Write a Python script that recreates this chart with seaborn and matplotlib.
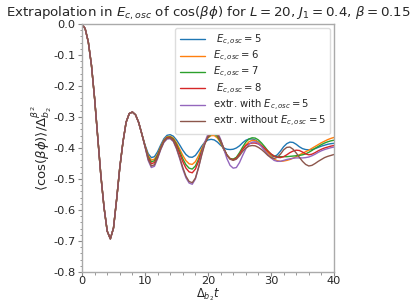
import numpy as np
import pandas as pd
import matplotlib
matplotlib.use("Agg")
import matplotlib.pyplot as plt
from matplotlib.ticker import AutoMinorLocator, MultipleLocator
import seaborn as sns

# ---- data ----
t_vals = [i * 0.5 for i in range(81)]  # 0 .. 40 step 0.5

common_start = [0.000, -0.015, -0.058, -0.133, -0.240, -0.366, -0.490, -0.592,
                -0.668, -0.693, -0.658, -0.565, -0.463, -0.381, -0.317, -0.289,
                -0.284, -0.293, -0.318, -0.355]  # t = 0 .. 9.5

e5_tail = [-0.390, -0.418, -0.431, -0.428, -0.412, -0.390, -0.370, -0.359, -0.357, -0.362,
           -0.374, -0.390, -0.407, -0.421, -0.429, -0.430, -0.424, -0.410, -0.394, -0.381,
           -0.374, -0.372, -0.374, -0.381, -0.391, -0.400, -0.404, -0.405, -0.404, -0.400,
           -0.393, -0.383, -0.375, -0.371, -0.371, -0.374, -0.381, -0.392, -0.404, -0.416,
           -0.425, -0.428, -0.422, -0.410, -0.396, -0.386, -0.381, -0.382, -0.388, -0.396,
           -0.402, -0.405, -0.406, -0.405, -0.402, -0.398, -0.394, -0.391, -0.388, -0.386,
           -0.385]
e6_tail = [-0.392, -0.424, -0.439, -0.436, -0.420, -0.396, -0.375, -0.364, -0.362, -0.368,
           -0.383, -0.403, -0.424, -0.441, -0.451, -0.453, -0.444, -0.425, -0.402, -0.381,
           -0.367, -0.360, -0.360, -0.368, -0.384, -0.405, -0.423, -0.434, -0.437, -0.432,
           -0.420, -0.404, -0.390, -0.380, -0.375, -0.376, -0.382, -0.392, -0.403, -0.415,
           -0.427, -0.436, -0.441, -0.443, -0.442, -0.440, -0.437, -0.433, -0.428, -0.422,
           -0.417, -0.412, -0.407, -0.401, -0.395, -0.389, -0.383, -0.378, -0.373, -0.369,
           -0.366]
e7_tail = [-0.393, -0.428, -0.445, -0.441, -0.423, -0.398, -0.377, -0.366, -0.364, -0.371,
           -0.388, -0.411, -0.435, -0.454, -0.465, -0.468, -0.458, -0.436, -0.409, -0.384,
           -0.366, -0.356, -0.355, -0.363, -0.381, -0.404, -0.423, -0.434, -0.436, -0.430,
           -0.415, -0.397, -0.381, -0.371, -0.367, -0.368, -0.374, -0.384, -0.396, -0.409,
           -0.420, -0.426, -0.428, -0.428, -0.428, -0.428, -0.427, -0.426, -0.425, -0.424,
           -0.422, -0.419, -0.414, -0.408, -0.401, -0.395, -0.389, -0.384, -0.380, -0.377,
           -0.375]
e8_tail = [-0.394, -0.432, -0.451, -0.447, -0.427, -0.400, -0.378, -0.367, -0.366, -0.374,
           -0.393, -0.418, -0.444, -0.465, -0.477, -0.480, -0.468, -0.443, -0.413, -0.385,
           -0.364, -0.352, -0.350, -0.358, -0.377, -0.402, -0.423, -0.435, -0.438, -0.433,
           -0.420, -0.404, -0.392, -0.386, -0.384, -0.384, -0.387, -0.393, -0.401, -0.410,
           -0.419, -0.426, -0.430, -0.431, -0.428, -0.422, -0.415, -0.410, -0.407, -0.408,
           -0.413, -0.419, -0.422, -0.420, -0.415, -0.409, -0.404, -0.400, -0.397, -0.394,
           -0.392]
extr_with_tail = [-0.396, -0.440, -0.463, -0.459, -0.434, -0.405, -0.382, -0.371, -0.370, -0.379,
                  -0.403, -0.434, -0.468, -0.496, -0.513, -0.517, -0.500, -0.463, -0.420, -0.381,
                  -0.355, -0.341, -0.338, -0.348, -0.372, -0.403, -0.434, -0.456, -0.465, -0.463,
                  -0.447, -0.424, -0.403, -0.388, -0.381, -0.380, -0.386, -0.396, -0.409, -0.421,
                  -0.432, -0.440, -0.443, -0.443, -0.440, -0.437, -0.435, -0.433, -0.432, -0.432,
                  -0.432, -0.431, -0.429, -0.425, -0.420, -0.414, -0.409, -0.405, -0.402, -0.399,
                  -0.397]
extr_without_tail = [-0.395, -0.436, -0.458, -0.454, -0.431, -0.403, -0.380, -0.369, -0.368, -0.377,
                     -0.400, -0.430, -0.463, -0.491, -0.508, -0.512, -0.497, -0.463, -0.423, -0.387,
                     -0.362, -0.348, -0.346, -0.355, -0.375, -0.400, -0.422, -0.436, -0.440, -0.436,
                     -0.425, -0.411, -0.400, -0.394, -0.392, -0.393, -0.398, -0.405, -0.414, -0.424,
                     -0.431, -0.434, -0.430, -0.420, -0.406, -0.398, -0.397, -0.404, -0.416, -0.430,
                     -0.443, -0.453, -0.458, -0.456, -0.450, -0.443, -0.437, -0.431, -0.427, -0.424,
                     -0.421]

labels = [r" $E_{c,osc}=5$", r"$E_{c,osc}=6$", r"$E_{c,osc}=7$", r" $E_{c,osc}=8$",
          r"extr. with $E_{c,osc}=5$", r"extr. without $E_{c,osc}=5$"]
tails = [e5_tail, e6_tail, e7_tail, e8_tail, extr_with_tail, extr_without_tail]
colors = ["#1f77b4", "#ff7f0e", "#2ca02c", "#d62728", "#9467bd", "#8c564b"]

rows = []
for lab, tail in zip(labels, tails):
    vals = common_start + tail
    for tv, v in zip(t_vals, vals):
        rows.append({"t": tv, "val": v, "series": lab})
df = pd.DataFrame(rows)

# ---- style ----
sns.set_theme(style="ticks")
plt.rcParams["font.family"] = ["DejaVu Sans"]
plt.rcParams["axes.unicode_minus"] = False
plt.rcParams["mathtext.fontset"] = "dejavusans"

fig = plt.figure(figsize=(4.16, 3.03), dpi=100)
ax = fig.add_axes([82 / 416, 1 - 272 / 303, 252 / 416, 248 / 303])

sns.lineplot(data=df, x="t", y="val", hue="series", hue_order=labels,
             palette=colors, linewidth=1.0, ax=ax, sort=False, estimator=None)

ax.set_xlim(0, 40)
ax.set_ylim(-0.8, 0.0)
ax.xaxis.set_major_locator(MultipleLocator(10))
ax.yaxis.set_major_locator(MultipleLocator(0.1))
ax.xaxis.set_minor_locator(AutoMinorLocator(5))
ax.yaxis.set_minor_locator(AutoMinorLocator(5))
ax.yaxis.set_major_formatter(matplotlib.ticker.FuncFormatter(lambda v, p: f"{v:.1f}"))

for s in ax.spines.values():
    s.set_color("#aaaaaa")
    s.set_linewidth(1.0)
ax.tick_params(axis="both", which="major", labelsize=8.2, length=3, width=0.8,
               color="#888888", pad=1.5)
ax.tick_params(axis="x", which="major", pad=0.2)
ax.tick_params(axis="both", which="minor", length=1.8, width=0.6, color="#888888")

ax.set_xlabel(r"$\Delta_{b_2}t$", fontsize=8.3, labelpad=0)
ax.set_ylabel(r"$\langle\cos(\beta\phi)\rangle/\Delta_{b_2}^{\beta^2}$", fontsize=9.5, labelpad=0)
ax.set_title(r"Extrapolation in $E_{c,osc}$ of $\cos(\beta\phi)$ for $L=20$, $J_1=0.4$, $\beta=0.15$",
             fontsize=9.6, pad=5)

handles, _ = ax.get_legend_handles_labels()
ax.legend(handles=handles, labels=labels, loc="upper right", fontsize=7.2,
          frameon=True, fancybox=True, framealpha=1.0, edgecolor="#dddddd",
          handlelength=2.5, labelspacing=0.12, borderpad=0.45, handletextpad=0.8,
          borderaxespad=0.4)

fig.savefig("out.png", dpi=100)
